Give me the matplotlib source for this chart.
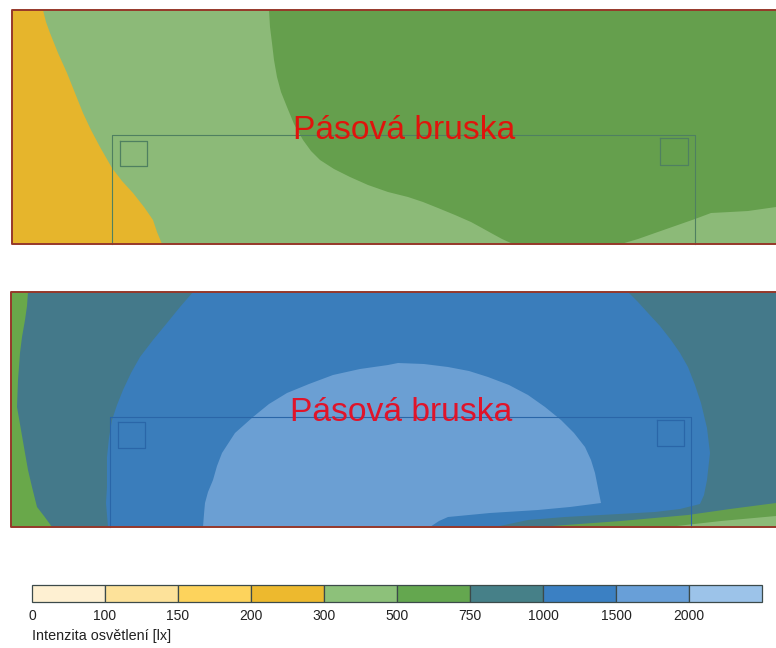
import matplotlib
matplotlib.use('Agg')
import matplotlib.pyplot as plt

plt.rcParams['font.family'] = ['Liberation Sans', 'DejaVu Sans']

# colour scale
levels = ['0', '100', '150', '200', '300', '500', '750', '1000', '1500', '2000']
bar_colors = ['#fef0d2', '#fde29a', '#fdd35c', '#edb92e', '#8dc17a',
              '#64a74f', '#468088', '#3b80c3', '#689fd8', '#9cc3e9']
title = 'Pásová bruska'
unit_label = 'Intenzita osvětlení [lx]'

# top panel isolines (pixels)
top_300 = [(12, 10), (43, 10), (46, 22), (50, 33), (58, 53), (67, 73), (75, 93), (83, 113),
           (91, 130), (100, 147), (112, 168), (122, 181), (133, 193), (144, 207), (153, 220),
           (157, 232), (162, 244), (12, 244)]
top_750 = [(269, 10), (270, 27), (272, 43), (274, 60), (277, 77), (281, 92), (287, 107),
           (294, 124), (303, 140), (311, 151), (320, 160), (334, 169), (350, 177), (368, 185),
           (388, 192), (408, 197), (423, 202), (438, 208), (455, 215), (471, 222), (482, 228),
           (491, 233), (502, 239), (513, 244), (621, 244), (638, 239), (655, 233), (675, 226),
           (695, 219), (711, 213), (730, 212), (748, 211), (776, 207), (776, 10)]

# bottom panel isolines
bot_left_750 = [(11, 292), (28, 292), (27, 306), (25, 320), (22, 337), (20, 353), (18, 380),
                (17, 407), (21, 430), (25, 453), (28, 470), (32, 487), (37, 507), (44, 516),
                (52, 527), (11, 527)]
bot_1500 = [(193, 292), (180, 307), (167, 323), (153, 340), (140, 357), (131, 373), (123, 390),
            (117, 405), (112, 420), (109, 438), (107, 457), (107, 472), (107, 487), (106, 503),
            (108, 527), (495, 527), (528, 520), (565, 517), (601, 515), (655, 512), (680, 509),
            (700, 504), (704, 495), (707, 480), (710, 453), (707, 428), (701, 403), (695, 385),
            (688, 367), (680, 353), (671, 340), (660, 326), (648, 313), (638, 302), (628, 292)]
bot_2000 = [(203, 527), (204, 514), (205, 503), (208, 492), (213, 480), (217, 466), (222, 453),
            (235, 433), (253, 417), (269, 404), (287, 393), (309, 384), (333, 375), (360, 369),
            (388, 365), (398, 363), (424, 364), (448, 367), (469, 371), (488, 377), (509, 385),
            (528, 395), (545, 407), (561, 420), (574, 433), (585, 447), (591, 460), (595, 473),
            (598, 488), (601, 503), (570, 507), (538, 510), (490, 513), (448, 517), (439, 521),
            (430, 527)]
bot_right_750 = [(538, 527), (621, 521), (688, 515), (730, 509), (776, 503), (776, 527)]
bot_right_500 = [(668, 527), (721, 521), (776, 516), (776, 527)]

fig = plt.figure(figsize=(7.76, 6.48), dpi=100)
ax = fig.add_axes([0, 0, 1, 1])
ax.set_xlim(0, 776)
ax.set_ylim(648, 0)
ax.axis('off')


def panel(x0, y0, y1, base):
    ax.fill([x0, 776, 776, x0], [y0, y0, y1, y1], color=base, lw=0)


def outlines(rect, squares, col):
    x0, x1, y0, y1 = rect
    ax.plot([x0, x0, x1, x1], [y1, y0, y0, y1], color=col, lw=0.8)
    for sx0, sx1, sy0, sy1 in squares:
        ax.plot([sx0, sx1, sx1, sx0, sx0], [sy0, sy0, sy1, sy1, sy0], color=col, lw=0.9)


def frame(x0, y0, y1):
    ax.plot([776, x0, x0, 776], [y0, y0, y1, y1], color='#96382a', lw=1.4)


# top
panel(12, 10, 244, '#8cba78')
ax.fill(*zip(*top_300), color='#e6b52c', lw=0)
ax.fill(*zip(*top_750), color='#659f4d', lw=0)
outlines((112, 695, 135, 244), [(120, 147, 141, 166), (660, 688, 138, 165)], '#4f8060')
frame(12, 10, 244)
ax.text(293, 139, title, color='#e0140c', fontsize=24.2, ha='left', va='baseline')

# bottom
panel(11, 292, 527, '#44798a')
ax.fill(*zip(*bot_left_750), color='#69a84a', lw=0)
ax.fill(*zip(*bot_1500), color='#3a7dbb', lw=0)
ax.fill(*zip(*bot_2000), color='#6b9fd3', lw=0)
ax.fill(*zip(*bot_right_750), color='#659f4d', lw=0)
ax.fill(*zip(*bot_right_500), color='#8cba78', lw=0)
outlines((110, 691, 417, 527), [(118, 145, 422, 448), (657, 684, 420, 446)], '#2a66a8')
frame(11, 292, 527)
ax.text(290, 421, title, color='#e0142a', fontsize=24.2, ha='left', va='baseline')

# colour bar
bar_x = 32
bar_w = 73
for i, c in enumerate(bar_colors):
    ax.bar(bar_x + i * bar_w, 17, width=bar_w, bottom=585, align='edge',
           color=c, edgecolor='#3c4a4a', lw=0.9)
    ax.text(bar_x + i * bar_w, 615.5, levels[i], ha='center', va='center',
            fontsize=10, color='#222222')
ax.text(32, 636, unit_label, ha='left', va='center', fontsize=10.4, color='#222222')

fig.savefig('out.png', dpi=100)
